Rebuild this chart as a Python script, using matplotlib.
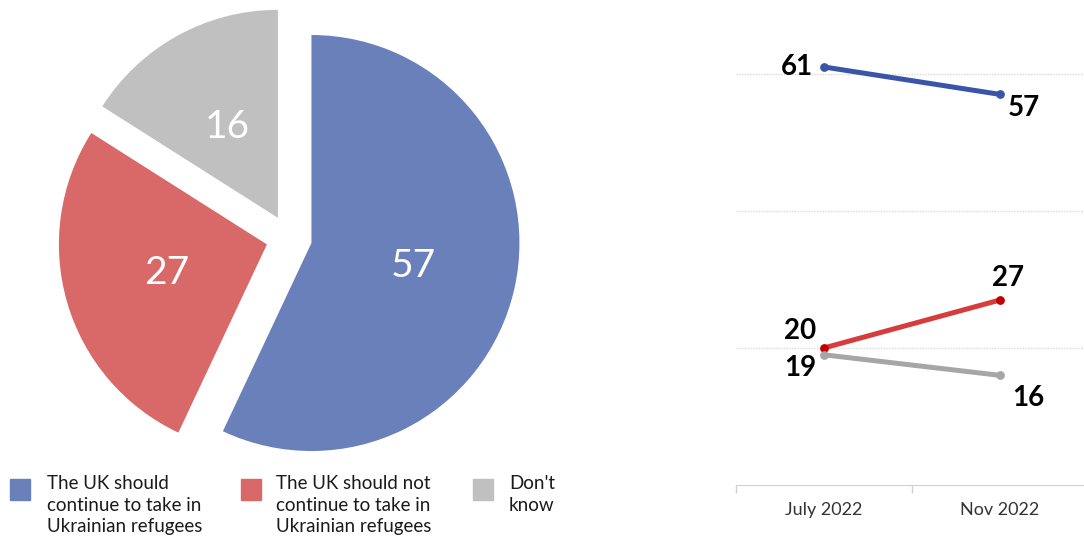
import matplotlib
matplotlib.use("Agg")
import matplotlib.pyplot as plt
from matplotlib.patches import Rectangle

plt.rcParams['font.family'] = ['Lato', 'DejaVu Sans']

# pie data
pie_values = [57, 27, 16]
pie_colors = ['#6a80bb', '#d96868', '#c0c0c0']
legend_labels = ['The UK should\ncontinue to take in\nUkrainian refugees',
                 'The UK should not\ncontinue to take in\nUkrainian refugees',
                 "Don't\nknow"]

# line data
periods = ['July 2022', 'Nov 2022']
take_in = [61, 57]
not_take_in = [20, 27]
dont_know = [19, 16]

W, H = 1084, 536
fig = plt.figure(figsize=(W / 100, H / 100), dpi=100)

# ---- pie ----
cx, cy, half = 289, 538 - 240, 232
ax1 = fig.add_axes([(cx - half) / W, (cy - half) / H, 2 * half / W, 2 * half / H])
r = 208
ax1.pie(pie_values, colors=pie_colors, startangle=90, counterclock=False,
        explode=[23 / r] * 3, radius=1,
        autopct='%d', pctdistance=0.5,
        textprops=dict(color='white', fontsize=28))
lim = half / r
ax1.set_xlim(-lim, lim)
ax1.set_ylim(-lim, lim)
ax1.set_aspect('equal')
ax1.axis('off')

# legend drawn by hand so the swatch sits at the first line
sw_x = [10, 241, 473]
tx_x = [47, 276, 509]
for i in range(3):
    fig.patches.append(Rectangle((sw_x[i] / W, (H - 500) / H), 20 / W, 21 / H,
                                 transform=fig.transFigure, color=pie_colors[i]))
    fig.text(tx_x[i] / W, (H - 475) / H, legend_labels[i], ha='left', va='top',
             fontsize=13.5, color='#1a1a1a', linespacing=1.33)

# ---- lines ----
left, right, bottom, top = 736, 1088, 485, 19
ax2 = fig.add_axes([left / W, (H - bottom) / H, (right - left) / W, (bottom - top) / H])
x = [0, 1]
ax2.plot(x, take_in, color='#3a55a8', lw=3.6, solid_capstyle='round', zorder=3)
ax2.plot(x, not_take_in, color='#d63b3d', lw=3.6, solid_capstyle='round', zorder=3)
ax2.plot(x, dont_know, color='#a6a6a6', lw=3.6, solid_capstyle='round', zorder=2)
ax2.scatter(x, take_in, s=28, color='#3a55a8', zorder=4)
ax2.scatter(x, not_take_in, s=28, color='#c00000', zorder=4)
ax2.scatter(x, dont_know, s=28, color='#a6a6a6', zorder=4)

offsets = {
    (0, 61): (-27, 0), (1, 57): (24, -14),
    (0, 20): (-24, 17), (1, 27): (8, 22),
    (0, 19): (-24, -13), (1, 16): (28, -23),
}
for (xi, v), off in offsets.items():
    ax2.annotate(str(v), (xi, v), xytext=off, textcoords='offset pixels',
                 ha='center', va='center', fontsize=20, fontweight='bold',
                 color='black')

ax2.set_xlim(-0.5, 1.5)
ax2.set_ylim(0, 68)
ax2.set_yticks([20, 40, 60])
ax2.yaxis.grid(True, color='#d9d9d9', linestyle=(0, (1, 1)), lw=1)
ax2.tick_params(axis='y', length=0, labelleft=False)
ax2.set_xticks(x)
ax2.set_xticklabels(periods, fontsize=13, color='#333333')
ax2.set_xticks([-0.5, 0.5, 1.5], minor=True)
ax2.tick_params(axis='x', which='major', length=0, pad=12)
ax2.tick_params(axis='x', which='minor', length=6, color='#d0d0d0', width=1)
for s in ['top', 'right', 'left']:
    ax2.spines[s].set_visible(False)
ax2.spines['bottom'].set_color('#d0d0d0')
ax2.set_axisbelow(True)

fig.savefig('out.png', dpi=100)
